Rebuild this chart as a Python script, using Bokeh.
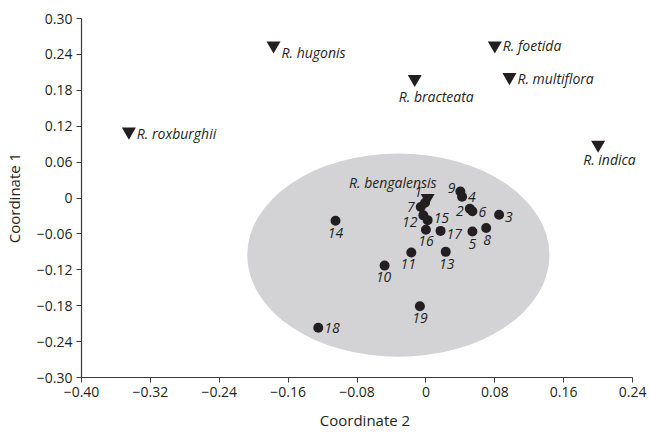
from bokeh.plotting import figure
from bokeh.models import ColumnDataSource, FixedTicker, Range1d
from bokeh.core.properties import value
from bokeh.embed import file_html
from bokeh.resources import INLINE

# ---------------- data ----------------
species = ["R. roxburghii", "R. hugonis", "R. foetida", "R. multiflora",
           "R. bracteata", "R. indica", "R. bengalensis"]
species_x = [-0.345, -0.177, 0.080, 0.097, -0.013, 0.200, 0.002]
species_y = [0.111, 0.255, 0.255, 0.202, 0.199, 0.089, 0.0]

samples = [str(i) for i in range(1, 20)]
sample_x = [-0.001, 0.051, 0.085, 0.042, 0.054, 0.054, -0.006, 0.070, 0.040,
            -0.048, -0.017, -0.003, 0.023, -0.105, 0.002, 0.000, 0.017, -0.125, -0.007]
sample_y = [-0.008, -0.018, -0.028, 0.002, -0.056, -0.022, -0.015, -0.050, 0.011,
            -0.113, -0.091, -0.029, -0.090, -0.038, -0.037, -0.053, -0.055, -0.217, -0.181]

# grey confidence ellipse: centre, width, height (data units)
ellipse_cx = [-0.032]
ellipse_cy = [-0.0955]
ellipse_w = [0.351]
ellipse_h = [0.340]

x_ticks = [-0.40, -0.32, -0.24, -0.16, -0.08, 0.0, 0.08, 0.16, 0.24]
x_tick_labels = ["\u22120.40", "\u22120.32", "\u22120.24", "\u22120.16", "\u22120.08",
                 "0", "0.08", "0.16", "0.24"]
y_ticks = [-0.30, -0.24, -0.18, -0.12, -0.06, 0.0, 0.06, 0.12, 0.18, 0.24, 0.30]
y_tick_labels = ["\u22120.30", "\u22120.24", "\u22120.18", "\u22120.12", "\u22120.06",
                 "0", "0.06", "0.12", "0.18", "0.24", "0.30"]

x_title = "Coordinate 2"
y_title = "Coordinate 1"

# ---------------- layout of labels (screen-pixel offsets) ----------------
species_place = {
    "R. roxburghii": ("left", 8, 2),
    "R. hugonis": ("left", 8, 7),
    "R. foetida": ("left", 8, 0),
    "R. multiflora": ("left", 8, 1),
    "R. bracteata": ("left", -16, 18),
    "R. indica": ("left", -15, 15),
    "R. bengalensis": ("right", 9, -16),
}
sample_place = {
    "1": ("right", -3, -11), "2": ("right", -6, 2), "3": ("left", 6, 2),
    "4": ("left", 6, 0), "5": ("below", 0, 7), "6": ("left", 6, 1),
    "7": ("right", -6, 0), "8": ("below", 1, 7), "9": ("right", -5, -3),
    "10": ("below", -1, 6), "11": ("below", -3, 7), "12": ("right", -6, 7),
    "13": ("below", 1, 7), "14": ("below", 0, 7), "15": ("left", 6, -2),
    "16": ("below", 0, 6), "17": ("left", 6, 3), "18": ("left", 6, 0),
    "19": ("below", 0, 7),
}

FONT = "Open Sans"
TXT = "#231f20"

# visible axis spans -0.40..0.24; the frame extends a little to the right
# so that the "R. indica" label is not clipped
X_AXIS_END = 0.24
X_VIEW_END = 0.2585


def label_cols(names, place):
    align, base, xo, yo = [], [], [], []
    for n in names:
        kind, dx, dy = place[n]
        if kind == "below":
            align.append("center"); base.append("top")
        elif kind == "right":
            align.append("right"); base.append("middle")
        else:
            align.append("left"); base.append("middle")
        xo.append(dx); yo.append(dy)
    return align, base, xo, yo


p = figure(width=650, height=432, output_backend="svg", toolbar_location=None,
           x_range=Range1d(-0.40, X_VIEW_END), y_range=Range1d(-0.30, 0.30),
           min_border_left=81, min_border_right=2, min_border_top=18, min_border_bottom=52)
p.outline_line_color = None
p.grid.grid_line_color = None
p.background_fill_color = "white"
p.border_fill_color = "white"

p.ellipse(x=ellipse_cx, y=ellipse_cy, width=ellipse_w, height=ellipse_h,
          fill_color="#d3d3d5", line_color=None)

sa, sb, sxo, syo = label_cols(samples, sample_place)
src_s = ColumnDataSource(dict(x=sample_x, y=sample_y, t=samples,
                              align=sa, base=sb, xo=sxo, yo=syo))
p.scatter("x", "y", source=src_s, marker="circle", size=10,
          fill_color=TXT, line_color=None)
p.text("x", "y", text="t", source=src_s, text_align="align", text_baseline="base",
       x_offset="xo", y_offset="yo", text_font=value(FONT), text_font_style="italic",
       text_font_size="14px", text_color=TXT)

ta, tb, txo, tyo = label_cols(species, species_place)
src_t = ColumnDataSource(dict(x=species_x, y=species_y, t=species,
                              align=ta, base=tb, xo=txo, yo=tyo))
p.scatter("x", "y", source=src_t, marker="inverted_triangle", size=14,
          fill_color=TXT, line_color=None)
p.text("x", "y", text="t", source=src_t, text_align="align", text_baseline="base",
       x_offset="xo", y_offset="yo", text_font=value(FONT), text_font_style="italic",
       text_font_size="14px", text_color=TXT)

for ax in (p.xaxis[0], p.yaxis[0]):
    ax.axis_line_color = "#3a3a3a"
    ax.axis_line_width = 1.2
    ax.major_tick_line_color = "#3a3a3a"
    ax.major_tick_out = 5
    ax.major_tick_in = 0
    ax.minor_tick_line_color = None
    ax.major_label_text_font = FONT
    ax.major_label_text_font_size = "14px"
    ax.major_label_text_color = TXT
    ax.axis_label_text_font = FONT
    ax.axis_label_text_font_size = "15px"
    ax.axis_label_text_font_style = "normal"
    ax.axis_label_text_color = TXT

p.xaxis[0].bounds = (-0.40, X_AXIS_END)
p.xaxis[0].ticker = FixedTicker(ticks=x_ticks)
p.xaxis[0].major_label_overrides = dict(zip(x_ticks, x_tick_labels))
p.yaxis[0].ticker = FixedTicker(ticks=y_ticks)
p.yaxis[0].major_label_overrides = dict(zip(y_ticks, y_tick_labels))
p.xaxis[0].axis_label = x_title
p.yaxis[0].axis_label = y_title
p.xaxis[0].axis_label_standoff = 10
p.yaxis[0].axis_label_standoff = 10
p.xaxis[0].major_label_standoff = 4
p.yaxis[0].major_label_standoff = 4

open("out.html", "w").write(file_html(p, INLINE))
